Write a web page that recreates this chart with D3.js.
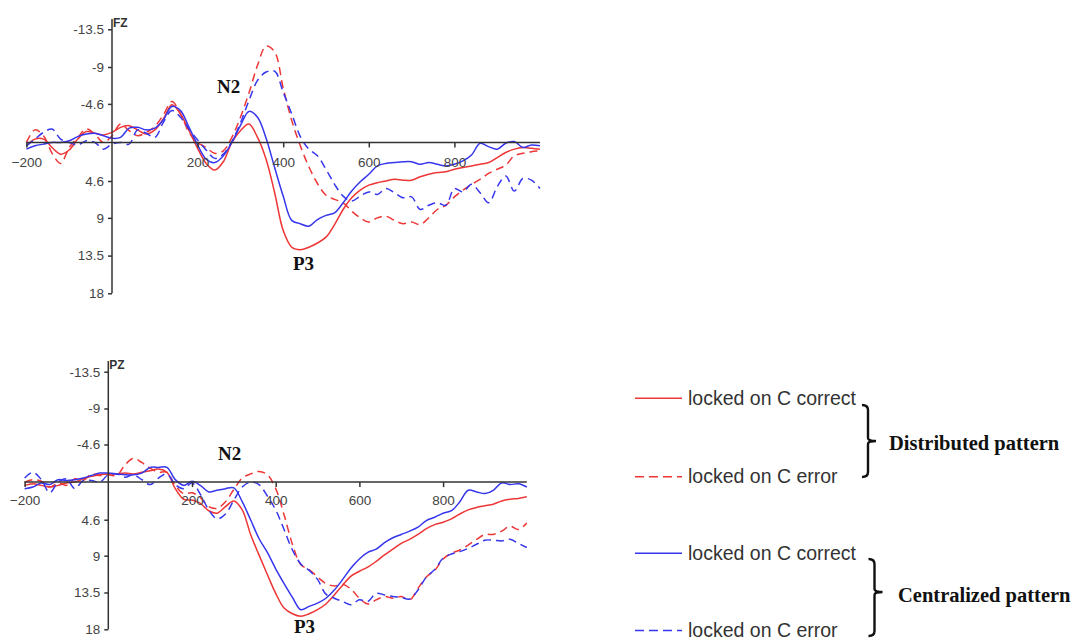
<!DOCTYPE html>
<html>
<head>
<meta charset="utf-8">
<script src="https://cdn.jsdelivr.net/npm/d3@7"></script>
<style>
  body { margin: 0; background: #fff; }
  svg { display: block; }
  .axis .tick text { font-family: "Liberation Sans", Arial, sans-serif; font-size: 13.5px; fill: #444; }
  .axis .tick line, .axis .domain { stroke: #333; stroke-width: 1.5; }
</style>
</head>
<body>
<svg id="chart" width="1073" height="640"></svg>
<script>
// time axis (ms), one sample every 20 ms
const times = d3.range(-200, 1001, 20);
const xTickValues = [-200, 200, 400, 600, 800];
const yTickValues = [-13.5, -9, -4.6, 4.6, 9, 13.5, 18];

// FZ, amplitudes in µV (negative up)
const fzDistCorrect = [0.4, -0.4, -0.4, 0.6, 1.4, 0.9, -0.4, -1.3, -1.1, -0.9,
  -1.2, -1.8, -2.0, -1.5, -1.0, -1.5, -2.8, -4.5, -3.4, -1.4,
  0.7, 2.5, 3.3, 2.3, 0.0, -1.4, -2.2, -0.6, 2.0, 6.0,
  10.5, 12.5, 12.8, 12.5, 12.0, 11.3, 9.8, 8.0, 6.6, 5.7,
  5.1, 4.8, 4.6, 4.4, 4.5, 4.5, 4.1, 3.8, 3.6, 3.5,
  3.2, 3.0, 2.8, 2.6, 2.4, 1.8, 1.2, 0.8, 0.6, 0.7, 0.8];
const fzDistError = [0.0, -1.5, -0.8, 1.3, 2.5, 0.6, -0.6, -1.6, -1.0, 0.0,
  -0.8, -2.2, -1.4, -0.8, -1.2, -1.9, -3.3, -4.9, -3.4, -1.2,
  0.0, 0.6, 1.3, 1.0, -0.6, -3.0, -5.9, -9.2, -11.5, -10.8,
  -6.5, -2.6, 0.4, 2.9, 4.9, 6.3, 6.8, 7.2, 8.2, 9.0,
  9.5, 9.0, 8.8, 9.3, 9.7, 9.5, 9.8, 9.0, 8.0, 7.5,
  6.5, 5.7, 5.0, 4.4, 3.7, 3.2, 2.7, 1.6, 1.3, 1.1, 1.0];
const fzCentCorrect = [0.8, 0.4, 0.2, 0.0, 0.0, -0.2, -0.7, -1.0, -1.1, -0.8,
  -0.5, -0.6, -1.7, -1.8, -1.5, -1.7, -2.7, -4.3, -3.8, -1.8,
  0.3, 2.0, 2.4, 1.6, 0.0, -2.0, -3.7, -3.0, -0.5, 3.0,
  6.4, 9.3, 9.7, 10.0, 9.2, 8.7, 8.4, 7.2, 5.8, 4.7,
  3.8, 2.8, 2.5, 2.4, 2.3, 2.3, 2.6, 2.4, 2.6, 2.8,
  2.6, 2.2, 1.5, 0.1, 0.5, 0.8, 0.1, -0.1, 0.6, 0.3, 0.4];
const fzCentError = [0.4, -0.4, -1.2, -1.6, -0.4, 0.0, 0.3, -0.2, 0.0, 0.8,
  0.2, 0.0, 0.2, -1.5, -1.1, -0.6, -2.4, -3.8, -3.0, -1.6,
  -0.3, 0.9, 1.9, 1.4, -0.1, -2.3, -5.0, -7.4, -8.4, -8.5,
  -6.0, -3.4, -0.7, 0.8, 1.6, 3.2, 5.0, 6.4, 7.0, 6.4,
  5.9, 6.2, 5.5, 6.0, 6.6, 6.5, 8.0, 7.5, 7.2, 7.5,
  5.5, 5.9, 5.0, 6.0, 7.2, 5.3, 4.0, 5.8, 4.3, 4.5, 5.5];

// PZ
const pzDistCorrect = [0.4, 0.2, 0.4, 0.6, 0.4, 0.1, 0.0, -0.4, -0.7, -0.9,
  -1.0, -1.0, -1.1, -1.0, -1.2, -1.4, -1.6, -1.2, 0.8, 2.1,
  2.2, 2.6, 3.5, 3.8, 3.0, 2.3, 3.4, 6.4, 8.9, 11.3,
  13.6, 15.4, 16.1, 16.4, 16.1, 15.6, 14.9, 13.8, 12.6, 11.5,
  10.9, 10.4, 9.7, 8.9, 8.2, 7.5, 7.0, 6.4, 5.7, 5.2,
  4.9, 4.5, 3.9, 3.4, 3.1, 2.9, 2.7, 2.3, 2.1, 2.0, 1.8];
const pzDistError = [0.0, -0.3, -0.1, 0.6, 0.1, 0.4, -0.4, -0.2, -1.0, -0.8,
  -0.9, -0.8, -2.1, -2.9, -2.4, -1.7, -1.2, -1.2, 0.4, 1.4,
  1.3, 1.9, 3.0, 3.2, 2.4, 0.9, -0.5, -1.0, -1.3, -0.9,
  0.8, 4.0, 7.6, 10.1, 10.7, 11.6, 12.4, 12.7, 12.5, 13.1,
  14.2, 14.9, 14.4, 14.0, 14.2, 14.0, 14.4, 13.0, 11.6, 10.8,
  9.4, 8.7, 8.3, 7.7, 7.0, 6.4, 6.4, 6.0, 5.4, 5.8, 5.0];
const pzCentCorrect = [0.8, 0.6, 0.1, 0.3, -0.3, -0.2, -0.3, -0.5, -0.8, -1.1,
  -1.1, -1.0, -0.9, -0.9, -1.1, -1.8, -1.8, -1.8, -0.3, 0.4,
  -0.1, 0.4, 1.2, 1.0, 0.8, 0.7, 2.4, 4.6, 6.9, 8.6,
  10.6, 12.4, 14.1, 15.6, 15.2, 14.8, 14.2, 13.2, 11.9, 10.5,
  9.4, 8.6, 8.2, 7.4, 6.8, 6.4, 6.0, 5.5, 4.7, 4.3,
  3.8, 3.5, 2.4, 1.0, 1.2, 1.4, 1.0, 0.1, 0.3, 0.2, 0.6];
const pzCentError = [-0.5, -1.2, -0.3, 1.3, 0.0, -0.4, 0.8, -0.2, -0.2, 0.0,
  -0.9, -1.0, -0.6, -0.9, -0.3, 0.3, -0.5, -1.0, 0.3, 0.8,
  0.1, 1.5, 3.4, 4.5, 3.9, 2.2, 0.6, 0.0, 0.3, 1.7,
  3.4, 5.8, 8.3, 10.0, 10.8, 11.9, 13.7, 14.2, 14.6, 15.0,
  14.4, 14.6, 13.6, 13.8, 14.0, 14.1, 14.3, 13.2, 11.6, 10.7,
  9.3, 8.8, 8.5, 8.1, 7.6, 7.1, 7.1, 7.2, 7.0, 7.5, 8.0];

const legendLabels = ["locked on C correct", "locked on C error", "locked on C correct", "locked on C error"];
const groupLabels = ["Distributed pattern", "Centralized pattern"];

const RED = "#ee3636";
const BLUE = "#3636ee";
const DASH = "8,5";
const styles = [
  { color: RED, dash: null },
  { color: RED, dash: DASH },
  { color: BLUE, dash: null },
  { color: BLUE, dash: DASH }
];

const sans = '"Liberation Sans", Arial, sans-serif';
const serif = '"Liberation Serif", "Times New Roman", serif';

const svg = d3.select("#chart");

const panels = [
  { name: "FZ", series: [fzDistCorrect, fzDistError, fzCentCorrect, fzCentError],
    xr: [26.4, 540], yr: [29.3, 293.3], axisTop: 19, pad: 10,
    n2: [217, 93], p3: [293, 270] },
  { name: "PZ", series: [pzDistCorrect, pzDistError, pzCentCorrect, pzCentError],
    xr: [24.6, 526.8], yr: [371.7, 629.3], axisTop: 361, pad: 8,
    n2: [218, 460], p3: [294, 633] }
];

function drawPanel(p) {
  const x = d3.scaleLinear().domain([-200, 1000]).range(p.xr);
  const y = d3.scaleLinear().domain([-13.5, 18]).range(p.yr);
  const g = svg.append("g");

  const line = d3.line()
    .x((d, i) => x(times[i]))
    .y(d => y(d))
    .curve(d3.curveCatmullRom.alpha(0.5));

  p.series.forEach((vals, i) => {
    g.append("path")
      .datum(vals)
      .attr("fill", "none")
      .attr("stroke", styles[i].color)
      .attr("stroke-width", 1.5)
      .attr("stroke-dasharray", styles[i].dash)
      .attr("d", line);
  });

  // x axis along zero
  const xAxis = g.append("g")
    .attr("class", "axis")
    .attr("transform", `translate(0,${y(0)})`)
    .call(d3.axisBottom(x).tickValues(xTickValues).tickSize(5).tickPadding(p.pad).tickSizeOuter(0));
  xAxis.select(".domain").attr("d", `M${x(-200)},0H${x(1000)}`);

  // y axis at t = 0
  const yAxis = g.append("g")
    .attr("class", "axis")
    .attr("transform", `translate(${x(0)},0)`)
    .call(d3.axisLeft(y).tickValues(yTickValues).tickSize(4).tickPadding(4)
      .tickFormat(d => String(d)).tickSizeOuter(0));
  yAxis.select(".domain").attr("d", `M0,${p.axisTop}V${y(18)}`);

  g.append("text")
    .attr("x", x(0) + 1)
    .attr("y", p.axisTop + 8)
    .attr("font-family", sans)
    .attr("font-size", 12)
    .attr("font-weight", "bold")
    .attr("fill", "#333")
    .text(p.name);

  [["N2", p.n2], ["P3", p.p3]].forEach(([t, pos]) => {
    g.append("text")
      .attr("x", pos[0])
      .attr("y", pos[1])
      .attr("font-family", serif)
      .attr("font-size", 19)
      .attr("font-weight", "bold")
      .attr("fill", "#111")
      .text(t);
  });
}

panels.forEach(drawPanel);

// legend
const legendY = [398.3, 476.7, 553.3, 630.5];
const legend = svg.append("g");
legendLabels.forEach((label, i) => {
  legend.append("line")
    .attr("x1", 635).attr("x2", 682)
    .attr("y1", legendY[i]).attr("y2", legendY[i])
    .attr("stroke", styles[i].color)
    .attr("stroke-width", 1.5)
    .attr("stroke-dasharray", styles[i].dash ? "9,5" : null);
  legend.append("text")
    .attr("x", 688)
    .attr("y", legendY[i] + 6.5)
    .attr("font-family", sans)
    .attr("font-size", 19.5)
    .attr("fill", "#333")
    .text(label);
});

function bracePath(x, y1, y2, ym, tip) {
  return `M${x - 6},${y1} Q${x},${y1} ${x},${y1 + 5} V${ym - 3} Q${x},${ym} ${x + tip},${ym}` +
    ` Q${x},${ym} ${x},${ym + 3} V${y2 - 5} Q${x},${y2} ${x - 6},${y2}`;
}

const braces = [
  { x: 868, y1: 405, y2: 477, ym: 441, tip: 8, tx: 889, ty: 450 },
  { x: 874.5, y1: 559, y2: 636, ym: 592, tip: 8, tx: 898, ty: 602 }
];
braces.forEach((b, i) => {
  legend.append("path")
    .attr("d", bracePath(b.x, b.y1, b.y2, b.ym, b.tip))
    .attr("fill", "none")
    .attr("stroke", "#111")
    .attr("stroke-width", 2.4);
  legend.append("text")
    .attr("x", b.tx)
    .attr("y", b.ty)
    .attr("font-family", serif)
    .attr("font-size", 20.5)
    .attr("font-weight", "bold")
    .attr("fill", "#111")
    .text(groupLabels[i]);
});
</script>
</body>
</html>
